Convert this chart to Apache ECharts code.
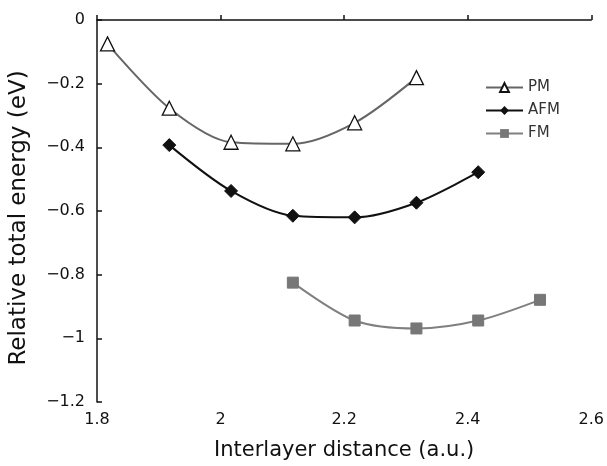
<!DOCTYPE html>
<html><head><meta charset="utf-8">
<script src="https://cdn.jsdelivr.net/npm/echarts@6/dist/echarts.min.js"></script>
<style>html,body{margin:0;padding:0;background:#fff}#c{width:607px;height:466px}</style>
</head><body><div id="c"></div>
<script>
const pmX = [1.817, 1.917, 2.017, 2.117, 2.217, 2.317];
const pmY = [-0.075, -0.277, -0.384, -0.389, -0.323, -0.181];
const afmX = [1.917, 2.017, 2.117, 2.217, 2.317, 2.417];
const afmY = [-0.393, -0.537, -0.615, -0.620, -0.574, -0.478];
const fmX = [2.117, 2.217, 2.317, 2.417, 2.517];
const fmY = [-0.825, -0.944, -0.969, -0.944, -0.879];
const xTicks = [1.8, 2.0, 2.2, 2.4, 2.6];
const yTicks = [0, -0.2, -0.4, -0.6, -0.8, -1, -1.2];

const pair = (xs, ys) => xs.map((x, i) => [x, ys[i]]);
const font = '"DejaVu Sans", Verdana, sans-serif';
const fmt = v => String(Math.round(v * 10) / 10).replace('-', '\u2212');
const chart = echarts.init(document.getElementById('c'));
chart.setOption({
  animation: false,
  backgroundColor: '#fff',
  grid: { left: 97, top: 20, right: 15, bottom: 59 },
  legend: {
    left: 485, top: 80, orient: 'vertical', padding: 0,
    itemWidth: 37, itemHeight: 11, itemGap: 8,
    textStyle: { fontFamily: font, fontSize: 15, color: '#333' },
    data: ['PM', 'AFM', 'FM']
  },
  xAxis: {
    type: 'value', min: 1.8, max: 2.6, interval: 0.2,
    name: 'Interlayer distance (a.u.)', nameLocation: 'middle', nameGap: 38,
    nameTextStyle: { fontFamily: font, fontSize: 21, color: '#111' },
    axisLine: { lineStyle: { color: '#111', width: 1.5 } },
    axisTick: { inside: true, length: 5, lineStyle: { color: '#111', width: 1.5 } },
    axisLabel: { fontFamily: font, fontSize: 16, color: '#111', margin: 10, formatter: fmt },
    splitLine: { show: false }
  },
  yAxis: {
    type: 'value', min: -1.2, max: 0, interval: 0.2,
    name: 'Relative total energy (eV)', nameLocation: 'middle', nameGap: 66,
    nameTextStyle: { fontFamily: font, fontSize: 23, color: '#111', padding: [0, 14, 0, 0] },
    axisLine: { lineStyle: { color: '#111', width: 1.5 } },
    axisTick: { inside: true, length: 5, lineStyle: { color: '#111', width: 1.5 } },
    axisLabel: { fontFamily: font, fontSize: 16, color: '#111', margin: 12, formatter: fmt },
    splitLine: { show: false }
  },
  series: [
    { name: 'PM', type: 'line', smooth: 0.3, data: pair(pmX, pmY),
      symbol: 'triangle', symbolSize: 14,
      lineStyle: { color: '#666', width: 2 },
      itemStyle: { color: '#fff', borderColor: '#111', borderWidth: 1.3 } },
    { name: 'AFM', type: 'line', smooth: 0.3, data: pair(afmX, afmY),
      symbol: 'diamond', symbolSize: 13,
      lineStyle: { color: '#111', width: 2 },
      itemStyle: { color: '#111', borderColor: '#111' } },
    { name: 'FM', type: 'line', smooth: 0.3, data: pair(fmX, fmY),
      symbol: 'rect', symbolSize: 11,
      lineStyle: { color: '#808080', width: 2 },
      itemStyle: { color: '#777', borderColor: '#777' } }
  ]
});
</script></body></html>
